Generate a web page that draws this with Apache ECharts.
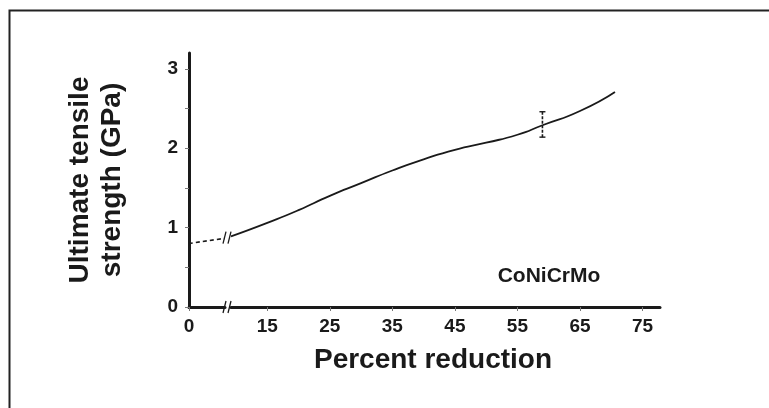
<!DOCTYPE html>
<html lang="en">
<head>
    <meta charset="UTF-8">
    <title>CoNiCrMo tensile strength</title>
    <script type="text/javascript" src="https://cdn.jsdelivr.net/npm/echarts@6.0.0/dist/echarts.min.js"></script>
    <style>
        body { margin: 0; background: #fff; }
        #chart { width: 769px; height: 408px; }
    </style>
</head>
<body>
    <div id="chart"></div>
    <script>
        // values
        var dashX = [0, 3, 5.7];              // dashed part, left of the axis break
        var dashY = [0.80, 0.835, 0.865];
        var curveX = [9.2, 15, 20, 25, 30, 35, 40, 45, 50, 55, 59, 65, 70.6];
        var curveY = [0.89, 1.06, 1.22, 1.40, 1.56, 1.72, 1.86, 1.98, 2.07, 2.17, 2.29, 2.47, 2.71];
        var errX = [59];
        var errLow = [2.14];
        var errHigh = [2.46];
        var xTicksLeft = [0];
        var xTicksRight = [15, 25, 35, 45, 55, 65, 75];
        var yTicks = [0, 1, 2, 3];
        var yMinorTicks = [0, 0.5, 1, 1.5, 2, 2.5, 3];

        var ink = '#1a1a1a';
        var font = 'Liberation Sans, Arial, sans-serif';

        function pairs(xs, ys) {
            var out = [];
            for (var i = 0; i < xs.length; i++) out.push([xs[i], ys[i]]);
            return out;
        }

        var chart = echarts.init(document.getElementById('chart'));

        var labelStyle = { color: ink, fontFamily: font, fontWeight: 'bold', fontSize: 19 };

        var option = {
            animation: false,
            backgroundColor: '#fff',
            grid: [
                { left: 189, right: 544, top: 53, bottom: 101 },
                { left: 231, right: 109, top: 53, bottom: 101 }
            ],
            xAxis: [{
                gridIndex: 0, type: 'value', min: 0, max: 5.75,
                splitLine: { show: false },
                axisLine: { show: true, lineStyle: { color: ink, width: 3 } },
                axisTick: { show: true, length: 4, customValues: xTicksLeft, lineStyle: { color: '#777' } },
                axisLabel: Object.assign({ margin: 10, customValues: xTicksLeft }, labelStyle)
            }, {
                gridIndex: 1, type: 'value', min: 9.2, max: 77.8,
                splitLine: { show: false },
                axisLine: { show: true, lineStyle: { color: ink, width: 3 } },
                axisTick: { show: true, length: 4, customValues: xTicksRight, lineStyle: { color: '#777' } },
                axisLabel: Object.assign({ margin: 10, customValues: xTicksRight }, labelStyle)
            }],
            yAxis: [{
                gridIndex: 0, type: 'value', min: 0, max: 3.2,
                name: 'Ultimate tensile\nstrength (GPa)',
                nameLocation: 'middle', nameRotate: 90, nameGap: 61,
                nameTextStyle: { color: ink, fontFamily: font, fontWeight: 'bold', fontSize: 28, lineHeight: 32 },
                splitLine: { show: false },
                axisLine: { show: true, lineStyle: { color: ink, width: 3 } },
                axisTick: { show: true, length: 4, customValues: yMinorTicks, lineStyle: { color: '#777' } },
                axisLabel: Object.assign({ margin: 11, customValues: yTicks }, labelStyle)
            }, {
                gridIndex: 1, type: 'value', min: 0, max: 3.2, show: false
            }],
            series: [{
                type: 'line', xAxisIndex: 0, yAxisIndex: 0,
                data: pairs(dashX, dashY), smooth: true, showSymbol: false,
                lineStyle: { color: ink, width: 1.6, type: [4, 3] }
            }, {
                type: 'line', xAxisIndex: 1, yAxisIndex: 1,
                data: pairs(curveX, curveY), smooth: 0.6, showSymbol: false,
                lineStyle: { color: ink, width: 1.8 }
            }, {
                // error bar
                type: 'custom', xAxisIndex: 1, yAxisIndex: 1, clip: false,
                data: errX.map(function (x, i) { return [x, errLow[i], errHigh[i]]; }),
                renderItem: function (params, api) {
                    var lo = api.coord([api.value(0), api.value(1)]);
                    var hi = api.coord([api.value(0), api.value(2)]);
                    var st = { stroke: ink, lineWidth: 1.4 };
                    return { type: 'group', children: [
                        { type: 'line', shape: { x1: lo[0], y1: lo[1], x2: hi[0], y2: hi[1] },
                          style: { stroke: ink, lineWidth: 1.6, lineDash: [3, 1.5] } },
                        { type: 'line', shape: { x1: hi[0] - 3, y1: hi[1], x2: hi[0] + 3, y2: hi[1] }, style: st },
                        { type: 'line', shape: { x1: lo[0] - 3, y1: lo[1], x2: lo[0] + 3, y2: lo[1] }, style: st }
                    ] };
                }
            }, {
                // break marks on the axis and on the curve
                type: 'custom', xAxisIndex: 1, yAxisIndex: 1, clip: false,
                data: [[curveX[0], 0], [curveX[0], curveY[0] - 0.015]],
                renderItem: function (params, api) {
                    var p = api.coord([api.value(0), api.value(1)]);
                    var st = { stroke: ink, lineWidth: 1.3 };
                    return { type: 'group', children: [
                        { type: 'line', shape: { x1: p[0] - 8, y1: p[1] + 6, x2: p[0] - 5, y2: p[1] - 6 }, style: st },
                        { type: 'line', shape: { x1: p[0] - 3, y1: p[1] + 6, x2: p[0], y2: p[1] - 6 }, style: st }
                    ] };
                }
            }],
            graphic: [{
                type: 'polyline', silent: true,
                shape: { points: [[9.5, 408], [9.5, 10.5], [769, 10.5]] },
                style: { stroke: '#222', lineWidth: 2, fill: null }
            }, {
                type: 'text', x: 433, y: 360,
                style: { text: 'Percent reduction', fill: ink, font: 'bold 28px ' + font, align: 'center', verticalAlign: 'middle' }
            }, {
                type: 'text', x: 549, y: 276,
                style: { text: 'CoNiCrMo', fill: ink, font: 'bold 21px ' + font, align: 'center', verticalAlign: 'middle' }
            }]
        };

        chart.setOption(option);
    </script>
</body>
</html>
